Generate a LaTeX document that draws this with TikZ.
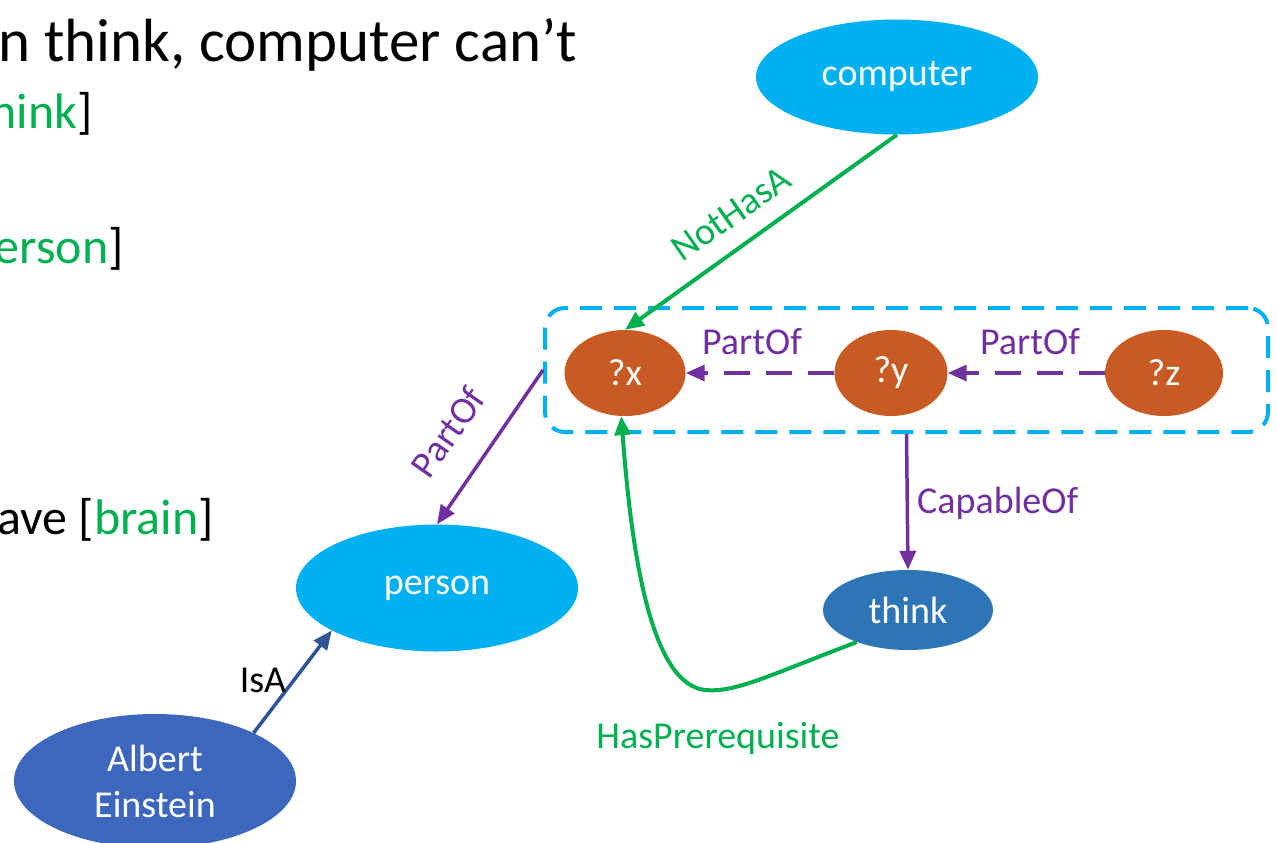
\documentclass[tikz,border=0pt]{standalone}
\usepackage{fontspec}
\setmainfont{Carlito}
\usetikzlibrary{arrows.meta,calc,shapes.geometric}
\definecolor{cyanA}{HTML}{00B0F0}
\definecolor{orangeA}{HTML}{C85A24}
\definecolor{thinkA}{HTML}{2E75B6}
\definecolor{albertA}{HTML}{3C67BC}
\definecolor{greenA}{HTML}{00B050}
\definecolor{purpleA}{HTML}{7030A0}
\definecolor{isaA}{HTML}{2F5597}
\begin{document}
\begin{tikzpicture}[x=1pt,y=-1pt,
  ell/.style={ellipse, inner sep=0pt, text=white, font=\fontsize{38}{46}\selectfont},
  lbl/.style={font=\fontsize{38}{46}\selectfont, inner sep=0pt},
  big/.style={font=\fontsize{61}{70}\selectfont, inner sep=0pt},
  mid/.style={font=\fontsize{50}{60}\selectfont, inner sep=0pt},
  tip/.style={-{Triangle[length=19,width=16]}},
  greenarrow/.style={tip, draw=greenA, line width=4},
  purplearrow/.style={tip, draw=purpleA, line width=3.5},
  dashedarrow/.style={tip, draw=purpleA, line width=3.5, dash pattern=on 26 off 16},
]
\useasboundingbox (0,0) rectangle (1277,843);

% text at left
\node[big, anchor=base west] (t1) at (-2,62) {n think, computer can’t};
\node[mid, anchor=base east] (t2) at (93,128) {\textcolor{greenA}{hink}]};
\node[mid, anchor=base east] (t3) at (124,263) {\textcolor{greenA}{erson}]};
\node[mid, anchor=base east] (t4) at (214,534) {ave [\textcolor{greenA}{brain}]};

% nodes
\node[ell, fill=cyanA, minimum width=282, minimum height=115] (comp) at (897,77) {computer};
\node[ell, fill=cyanA, minimum width=282, minimum height=127] (person) at (437,588) {person};
\node[ell, fill=albertA, minimum width=282, minimum height=134, align=center] (albert) at (155,781) {Albert\\Einstein};
\node[ell, fill=thinkA, minimum width=170, minimum height=80] (think) at (908,610) {think};
\node[ell, fill=orangeA, minimum width=121, minimum height=86] (x) at (625,373) {?x};
\node[ell, fill=orangeA, minimum width=113, minimum height=86] (y) at (891,373) {?y};
\node[ell, fill=orangeA, minimum width=118, minimum height=86] (z) at (1164,373) {?z};

\node[draw=cyanA, line width=4, dash pattern=on 22 off 12, rounded corners=20,
      minimum width=723, minimum height=124, inner sep=0pt] (box) at (906.5,370) {};

% connectors
\draw[greenarrow] (comp.south) -- (x.north);
\draw[dashedarrow] (y.west) -- (x.east);
\draw[dashedarrow] (z.west) -- (y.east);
\draw[purplearrow] (box.west) -- (person.north);
\draw[purplearrow] (box.south) -- (think.north);
\draw[greenarrow] (think.212) .. controls (770,675) and (735,693) .. (705,690)
      .. controls (652,684) and (632,560) .. (x.265);
\draw[tip, draw=isaA, line width=3.5] (albert.26) -- (person.202);

% labels
\node[lbl, text=greenA, rotate=35] (l1) at (731,214) {NotHasA};
\node[lbl, text=purpleA] (l2) at (752,342) {PartOf};
\node[lbl, text=purpleA] (l3) at (1030,342) {PartOf};
\node[lbl, text=purpleA, rotate=55] (l4) at (448,432) {PartOf};
\node[lbl, text=purpleA, anchor=west] (l5) at (917,503) {CapableOf};
\node[lbl, text=greenA] (l6) at (718,738) {HasPrerequisite};
\node[lbl] (l7) at (263,680) {IsA};
\end{tikzpicture}
\end{document}
